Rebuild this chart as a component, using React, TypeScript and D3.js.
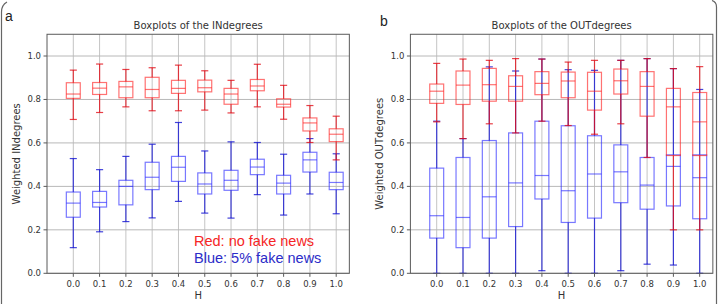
import React from 'react';
import * as d3 from 'd3';

const H = [0.0, 0.1, 0.2, 0.3, 0.4, 0.5, 0.6, 0.7, 0.8, 0.9, 1.0];
const yTicks = [0.0, 0.2, 0.4, 0.6, 0.8, 1.0];

// INdegrees, no fake news (red)
const inRedLo = [0.708, 0.74, 0.766, 0.748, 0.748, 0.751, 0.738, 0.766, 0.709, 0.602, 0.522];
const inRedQ1 = [0.805, 0.823, 0.808, 0.808, 0.828, 0.835, 0.778, 0.84, 0.765, 0.655, 0.606];
const inRedMed = [0.825, 0.852, 0.858, 0.846, 0.851, 0.854, 0.825, 0.862, 0.778, 0.692, 0.64];
const inRedQ3 = [0.877, 0.878, 0.883, 0.902, 0.888, 0.889, 0.851, 0.892, 0.803, 0.715, 0.665];
const inRedHi = [0.935, 0.963, 0.938, 0.946, 0.958, 0.932, 0.888, 0.962, 0.865, 0.772, 0.723];

// INdegrees, 5% fake news (blue)
const inBlueLo = [0.118, 0.191, 0.238, 0.255, 0.331, 0.277, 0.254, 0.362, 0.268, 0.365, 0.274];
const inBlueQ1 = [0.258, 0.305, 0.315, 0.385, 0.423, 0.365, 0.382, 0.454, 0.365, 0.466, 0.385];
const inBlueMed = [0.323, 0.326, 0.4, 0.442, 0.488, 0.411, 0.428, 0.489, 0.415, 0.522, 0.418];
const inBlueQ3 = [0.374, 0.377, 0.428, 0.511, 0.538, 0.462, 0.474, 0.525, 0.451, 0.557, 0.465];
const inBlueHi = [0.528, 0.477, 0.538, 0.594, 0.694, 0.563, 0.605, 0.602, 0.548, 0.62, 0.55];

// OUTdegrees, no fake news (red)
const outRedLo = [0.697, 0.62, 0.688, 0.646, 0.7, 0.68, 0.64, 0.688, 0.533, 0.2, 0.2];
const outRedQ1 = [0.782, 0.777, 0.792, 0.792, 0.822, 0.808, 0.751, 0.825, 0.723, 0.542, 0.542];
const outRedMed = [0.838, 0.866, 0.868, 0.86, 0.874, 0.885, 0.838, 0.886, 0.86, 0.766, 0.697];
const outRedQ3 = [0.871, 0.931, 0.943, 0.909, 0.928, 0.926, 0.925, 0.94, 0.928, 0.851, 0.832];
const outRedHi = [0.966, 0.986, 0.98, 0.988, 0.986, 0.972, 0.98, 0.98, 0.988, 0.942, 0.951];

// OUTdegrees, 5% fake news (blue)
const outBlueLo = [0, 0, 0, 0, 0.012, 0, 0, 0.012, 0.042, 0.038, 0];
const outBlueQ1 = [0.162, 0.118, 0.162, 0.215, 0.342, 0.234, 0.254, 0.325, 0.295, 0.31, 0.251];
const outBlueMed = [0.265, 0.257, 0.352, 0.416, 0.45, 0.38, 0.457, 0.467, 0.406, 0.492, 0.44];
const outBlueQ3 = [0.484, 0.533, 0.611, 0.646, 0.7, 0.679, 0.633, 0.591, 0.533, 0.545, 0.545];
const outBlueHi = [0.7, 0.62, 0.95, 0.931, 0.986, 0.937, 0.934, 0.98, 0.988, 0.942, 0.846];

const FONT = 'DejaVu Sans, sans-serif';

type Series = { lo: number[]; q1: number[]; med: number[]; q3: number[]; hi: number[] };

const Boxes = ({ s, x, y, boxColor, lineColor }: any) => {
  const step = x(0.1) - x(0);
  const bw = step * 0.53;
  const cw = step * 0.27;
  return (
    <g fill="none" strokeWidth={1.2}>
      {H.map((h, i) => {
        const cx = x(h);
        return (
          <g key={i}>
            <line x1={cx} x2={cx} y1={y(s.q3[i])} y2={y(s.hi[i])} stroke={lineColor} />
            <line x1={cx} x2={cx} y1={y(s.q1[i])} y2={y(s.lo[i])} stroke={lineColor} />
            <line x1={cx - cw / 2} x2={cx + cw / 2} y1={y(s.hi[i])} y2={y(s.hi[i])} stroke={lineColor} />
            <line x1={cx - cw / 2} x2={cx + cw / 2} y1={y(s.lo[i])} y2={y(s.lo[i])} stroke={lineColor} />
            <rect x={cx - bw / 2} y={y(s.q3[i])} width={bw} height={y(s.q1[i]) - y(s.q3[i])} stroke={boxColor} />
            <line x1={cx - bw / 2} x2={cx + bw / 2} y1={y(s.med[i])} y2={y(s.med[i])} stroke={boxColor} />
          </g>
        );
      })}
    </g>
  );
};

const Panel = ({ x0, x1, title, ylabel, letter, red, blue, legend }: any) => {
  const x = d3.scaleLinear().domain([0, 1]).range([x0, x1]);
  const y = d3.scaleLinear().domain([0, 1]).range([273.3, 56]);
  const left = x(-0.1);
  const right = x(1.05);
  const top = y(1.1);
  const bottom = y(0);
  return (
    <g>
      {/* grid */}
      {H.map((h) => (
        <line key={'gx' + h} x1={x(h)} x2={x(h)} y1={top} y2={bottom} stroke="#c4c4c4" strokeWidth={1} />
      ))}
      {yTicks.map((t) => (
        <line key={'gy' + t} x1={left} x2={right} y1={y(t)} y2={y(t)} stroke="#b8b8b8" strokeWidth={1} />
      ))}
      <Boxes s={blue} x={x} y={y} boxColor="rgba(30,30,255,0.6)" lineColor="rgba(20,20,210,0.8)" />
      <Boxes s={red} x={x} y={y} boxColor="rgba(255,20,20,0.6)" lineColor="rgba(225,10,20,0.78)" />
      <rect x={left} y={top} width={right - left} height={bottom - top} fill="none" stroke="#5a5a5a" strokeWidth={1} />
      {/* y axis */}
      {yTicks.map((t) => (
        <g key={'ty' + t}>
          <line x1={left - 3.5} x2={left} y1={y(t)} y2={y(t)} stroke="#5a5a5a" />
          <text x={left - 6} y={y(t) + 3} textAnchor="end" fontSize={8.5} fill="#333" fontFamily={FONT}>
            {d3.format('.1f')(t)}
          </text>
        </g>
      ))}
      {/* x axis */}
      {H.map((h) => (
        <g key={'tx' + h}>
          <line x1={x(h)} x2={x(h)} y1={bottom} y2={bottom + 3.5} stroke="#5a5a5a" />
          <text x={x(h)} y={bottom + 13.2} textAnchor="middle" fontSize={8.5} fill="#333" fontFamily={FONT}>
            {d3.format('.1f')(h)}
          </text>
        </g>
      ))}
      <text x={(left + right) / 2} y={299} textAnchor="middle" fontSize={10} fill="#333" fontFamily={FONT}>H</text>
      <text x={(left + right) / 2} y={29} textAnchor="middle" fontSize={10} fill="#333" fontFamily={FONT}>{title}</text>
      <text
        transform={`translate(${left - 27},${(top + bottom) / 2}) rotate(-90)`}
        textAnchor="middle"
        fontSize={10}
        fill="#333"
        fontFamily={FONT}
      >
        {ylabel}
      </text>
      <text x={letter.x} y={letter.y} fontSize={14} fill="#222" fontFamily="Liberation Sans, Arial, sans-serif">{letter.t}</text>
      {legend && (
        <g fontFamily="Liberation Sans, Arial, sans-serif" fontSize={14.5}>
          <text x={194} y={245.5} fill="#f52525">Red: no fake news</text>
          <text x={194} y={263.3} fill="#2c2cc8">Blue: 5% fake news</text>
        </g>
      )}
    </g>
  );
};

export default function App() {
  const inRed: Series = { lo: inRedLo, q1: inRedQ1, med: inRedMed, q3: inRedQ3, hi: inRedHi };
  const inBlue: Series = { lo: inBlueLo, q1: inBlueQ1, med: inBlueMed, q3: inBlueQ3, hi: inBlueHi };
  const outRed: Series = { lo: outRedLo, q1: outRedQ1, med: outRedMed, q3: outRedQ3, hi: outRedHi };
  const outBlue: Series = { lo: outBlueLo, q1: outBlueQ1, med: outBlueMed, q3: outBlueQ3, hi: outBlueHi };
  return (
    <svg width={718} height={304} style={{ position: 'absolute', left: 0, top: 0, background: '#fff' }}>
      <path d="M1.5,304 V12 Q1.5,5 7,2" fill="none" stroke="#666" strokeWidth={1.2} />
      <path d="M716.5,304 V7 Q716.5,2 712,0.5" fill="none" stroke="#666" strokeWidth={1.2} />
      <Panel
        x0={73.3}
        x1={336.2}
        title="Boxplots of the INdegrees"
        ylabel="Weighted INdegrees"
        letter={{ x: 5, y: 21, t: 'a' }}
        red={inRed}
        blue={inBlue}
        legend
      />
      <Panel
        x0={436.7}
        x1={699.7}
        title="Boxplots of the OUTdegrees"
        ylabel="Weighted OUTdegrees"
        letter={{ x: 380, y: 26, t: 'b' }}
        red={outRed}
        blue={outBlue}
      />
    </svg>
  );
}
